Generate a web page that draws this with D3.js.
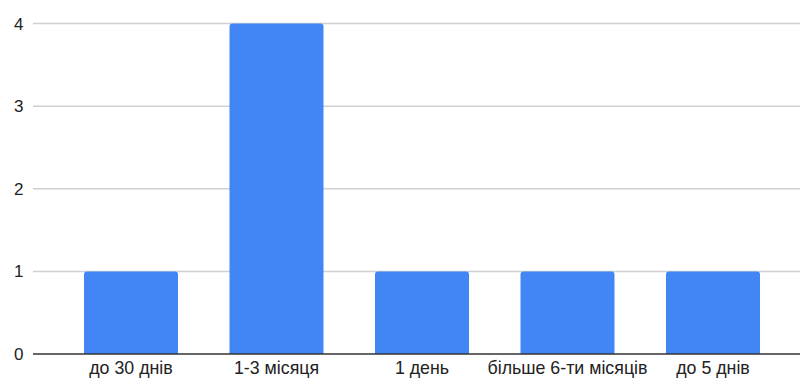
<!DOCTYPE html>
<html><head><meta charset="utf-8">
<script src="https://cdn.jsdelivr.net/npm/d3@7"></script>
<style>body{margin:0;background:#fff}svg{display:block}text{font-family:"Liberation Sans",Arial,sans-serif;font-size:17px;fill:#222}.xl{font-size:17.8px}</style>
</head><body><svg id="c" width="800" height="378"></svg>
<script>
const categories = ["до 30 днів","1-3 місяця","1 день","більше 6-ти місяців","до 5 днів"];
const values = [1,4,1,1,1];
const yTicks = [0,1,2,3,4];

const svg = d3.select("#c");
const x = d3.scaleBand().domain(categories).range([58.25,785.75]).paddingInner(0.354).paddingOuter(0.177);
const y = d3.scaleLinear().domain([0,4]).range([354,23.5]);

svg.append("g").selectAll("line").data(yTicks.filter(d=>d>0)).join("line")
  .attr("x1",33).attr("x2",800).attr("y1",d=>y(d)).attr("y2",d=>y(d))
  .attr("stroke","#d0d0d0").attr("stroke-width",1.5);

svg.append("g").selectAll("text").data(yTicks).join("text")
  .attr("x",23.5).attr("y",d=>y(d)).attr("dy","0.36em").attr("text-anchor","end").text(d=>d);

const r = 3;
svg.append("g").selectAll("path").data(categories).join("path")
  .attr("fill","#4285f4")
  .attr("d",(c,i)=>{
    const x0=x(c), w=x.bandwidth(), y0=y(values[i]), y1=y(0);
    return `M${x0},${y1}V${y0+r}Q${x0},${y0} ${x0+r},${y0}H${x0+w-r}Q${x0+w},${y0} ${x0+w},${y0+r}V${y1}Z`;
  });

svg.append("line").attr("x1",33).attr("x2",800).attr("y1",y(0)).attr("y2",y(0))
  .attr("stroke","#333").attr("stroke-width",1.5);

svg.append("g").selectAll("text").data(categories).join("text").attr("class","xl")
  .attr("x",c=>x(c)+x.bandwidth()/2).attr("y",373.5).attr("text-anchor","middle").text(c=>c);
</script></body></html>
